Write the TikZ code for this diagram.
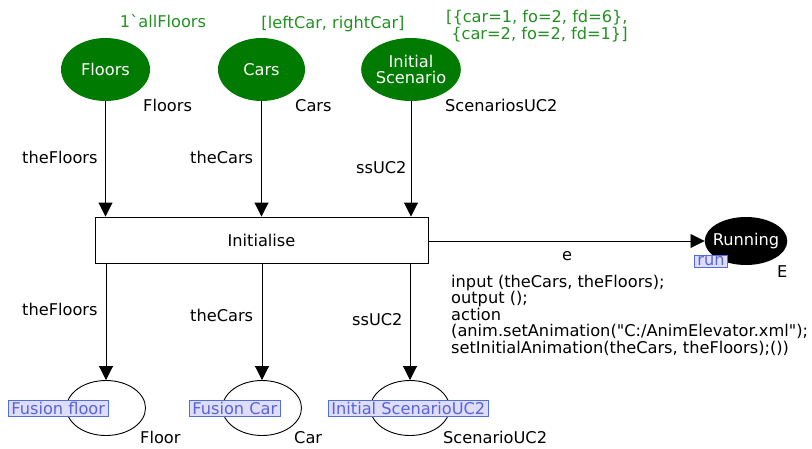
\documentclass[tikz,border=0pt]{standalone}
\usepackage{fontspec}
\setmainfont{DejaVu Sans}[Ligatures=TeXOff]
\usetikzlibrary{arrows.meta,shapes.geometric}
\definecolor{placegreen}{RGB}{0,122,0}
\definecolor{marktext}{RGB}{34,145,34}
\definecolor{tagfill}{RGB}{222,222,250}
\definecolor{tagdraw}{RGB}{80,110,220}
\definecolor{tagtext}{RGB}{90,100,215}
\tikzset{
  x=1pt, y=-1pt,
  every node/.style={font=\fontsize{16.2}{16.6}\selectfont, inner sep=0pt},
  greenplace/.style={ellipse, fill=placegreen, text=white, minimum width=89pt, minimum height=63pt, align=center},
  plainplace/.style={ellipse, draw=black, line width=0.9pt, minimum width=79pt, minimum height=55pt},
  blackplace/.style={ellipse, fill=black, text=white, inner xsep=-4pt, minimum width=82pt, minimum height=48pt},
  trans/.style={draw=black, line width=0.9pt, fill=white, minimum width=333pt, minimum height=46pt},
  arc/.style={line width=0.9pt, -{Triangle[length=14pt,width=14pt]}},
  marking/.style={text=marktext, anchor=base},
  lbl/.style={anchor=base west},
  tag/.style={draw=tagdraw, fill=tagfill, text=tagtext, line width=0.8pt, inner xsep=3pt, inner ysep=1.5pt, anchor=west},
}
\newcommand{\tagtxt}[1]{#1\hspace{5.5pt}}
\begin{document}
\begin{tikzpicture}
\useasboundingbox (0,0) rectangle (812,448);

% top places
\node[greenplace] (floors) at (105.5,69.5) {Floors};
\node[greenplace, minimum width=87pt] (cars) at (261.5,69.5) {Cars};
\node[greenplace] (scen) at (411,69.5) {Initial\\[-1pt]Scenario};

% initial markings
\node[marking] (mFloors) at (163,27) {1`allFloors};
\node[marking] (mCars) at (333,28) {[leftCar, rightCar]};
\node[marking, anchor=base west, align=left] (mScen) at (446,39) {[\{car=1, fo=2, fd=6\},\\\ \{car=2, fo=2, fd=1\}]};

% colour sets
\node[lbl] (tFloors) at (143,111) {Floors};
\node[lbl] (tCars) at (295,111) {Cars};
\node[lbl] (tScen) at (445,111) {ScenariosUC2};

% transition
\node[trans] (init) at (261.5,240) {Initialise};

% lower places
\node[plainplace] (floor) at (106,408) {};
\node[plainplace] (car) at (262,408) {};
\node[plainplace] (scen2) at (410,408) {};
\node[blackplace] (run) at (746,241) {Running};

% fusion tags
\node[tag] (fFloor) at (8,408.5) {\tagtxt{Fusion floor}};
\node[tag] (fCar) at (189,408.5) {\tagtxt{Fusion Car}};
\node[tag] (fScen) at (328,408.5) {\tagtxt{Initial ScenarioUC2}};
\node[tag] (fRun) at (694,261.5) {\tagtxt{run}};

% lower colour sets
\node[lbl] (tFloor) at (140,443) {Floor};
\node[lbl] (tCar) at (294,443) {Car};
\node[lbl] (tScen2) at (443,443) {ScenarioUC2};
\node[lbl] (tRun) at (777,277) {E};

% input arcs
\draw[arc] (floors.south) -- (init.north -| floors.south);
\draw[arc] (cars.south) -- (init.north -| cars.south);
\draw[arc] (scen.south) -- (init.north -| scen.south);
% output arcs
\draw[arc] (init.south -| floor.north) -- (floor.north);
\draw[arc] (init.south -| car.north) -- (car.north);
\draw[arc] (init.south -| scen2.north) -- (scen2.north);
\draw[arc] (init.east |- run.west) -- (run.west);

% arc inscriptions
\node[lbl] (aFloors) at (22,163) {theFloors};
\node[lbl] (aCars) at (190,163) {theCars};
\node[lbl] (aScen) at (356,173) {ssUC2};
\node[lbl] (bFloors) at (22,315) {theFloors};
\node[lbl] (bCars) at (190,321) {theCars};
\node[lbl] (bScen) at (352,325) {ssUC2};
\node[lbl] (aRun) at (562,260) {e};

% code segment
\node[anchor=north west, align=left] (code) at (451,274.5) {input (theCars, theFloors);\\output ();\\action\\(anim.setAnimation("C:/AnimElevator.xml");\\setInitialAnimation(theCars, theFloors);())};
\end{tikzpicture}
\end{document}
